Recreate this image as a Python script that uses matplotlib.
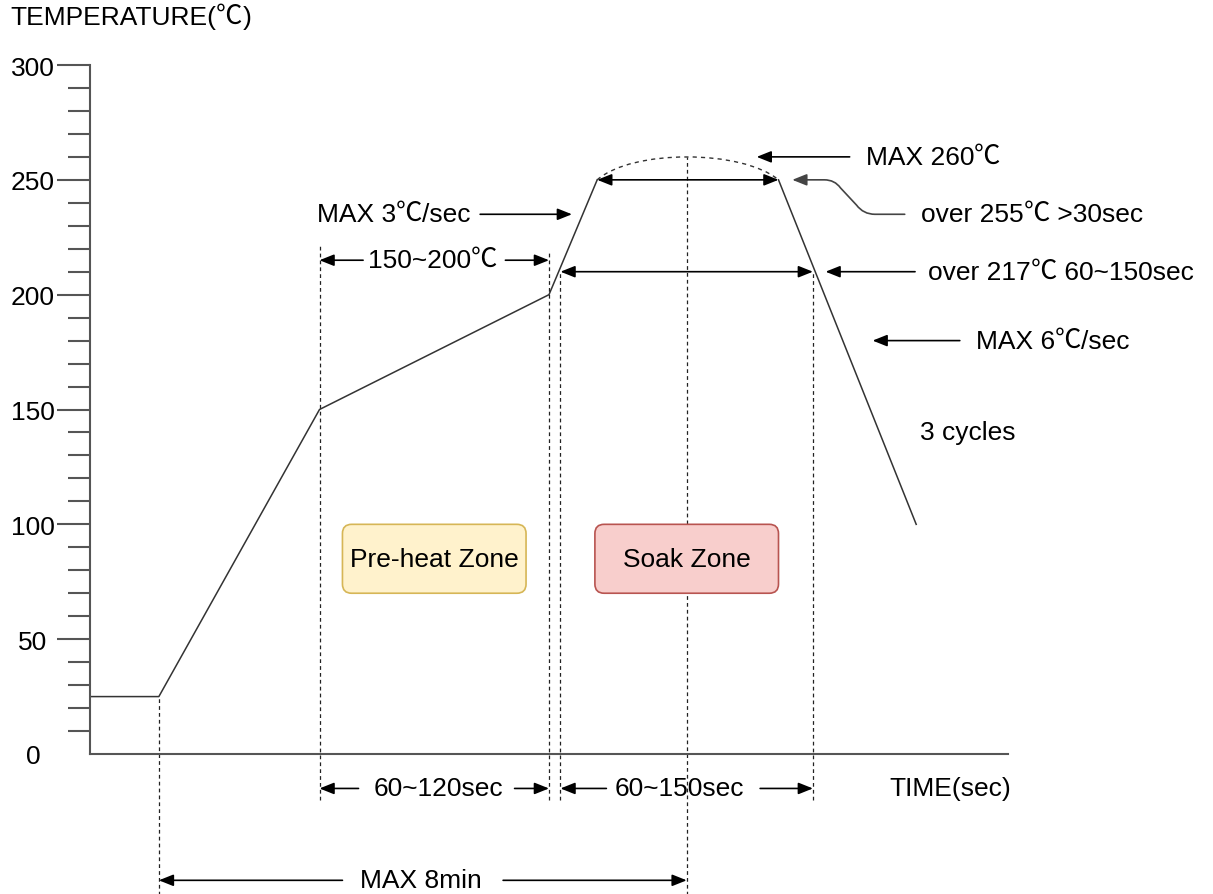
import matplotlib.pyplot as plt
from matplotlib.patches import FancyBboxPatch, FancyArrowPatch, PathPatch
from matplotlib.path import Path
from matplotlib.ticker import MultipleLocator

plt.rcParams['font.family'] = ['Liberation Sans', 'Noto Sans CJK SC', 'DejaVu Sans']
CJK = ['Noto Sans CJK SC', 'DejaVu Sans']

# reflow profile (time in arbitrary units, temperature in degC)
ramp_t = [0, 30, 100, 200, 221]
ramp_temp = [25, 25, 150, 200, 250]
peak_t = [221, 236, 284, 300]
peak_temp = [250, 263.3, 263.3, 250]
cool_t = [300, 360]
cool_temp = [250, 100]

y_ticks = [0, 50, 100, 150, 200, 250, 300]

# dashed guide lines: (time, top, bottom)
guides = [(30, 25, -62), (100, 221, -20), (200, 218, -20), (205, 210, -20),
          (260, 260, -62), (315, 210, -20)]

# double arrows broken by a label: (y, left end, right end, gap left, gap right)
spans = [(215, 100, 200, 119, 181), (-15, 100, 200, 117, 185),
         (-15, 205, 315, 225, 292), (-55, 30, 260, 110, 180)]
plain_spans = [(250, 221, 300), (210, 205, 315)]

# pointers: (tail x, tail y, tip x, tip y)
pointers = [(170, 235, 210, 235), (331, 260, 290.5, 260),
            (359.5, 210, 320.5, 210), (379, 180, 341, 180)]

# left-aligned labels, split where the degree sign is
labels = [
    (98.9, 235, ["MAX 3", "℃", "/sec"]),
    (121.1, 215, ["150~200", "℃"]),
    (338, 260, ["MAX 260", "℃"]),
    (362, 235, ["over 255", "℃", " >30sec"]),
    (365, 210, ["over 217", "℃", " 60~150sec"]),
    (386, 180, ["MAX 6", "℃", "/sec"]),
]
centered = [(152, -15, "60~120sec"), (257, -15, "60~150sec"), (144, -55, "MAX 8min"),
            (382.5, 140, "3 cycles"), (375, -15, "TIME(sec)")]

zones = [(110, 190, "Pre-heat Zone", '#fff2cc', '#d6b656'),
         (220, 300, "Soak Zone", '#f8cecc', '#b85450')]
zone_low, zone_high = 70, 100

fs = 19
fig = plt.figure(figsize=(12.13, 8.95), dpi=100)
ax = fig.add_axes([90 / 1213, 140 / 895, 918 / 1213, 689 / 895])
ax.set_xlim(0, 400)
ax.set_ylim(0, 300)
for s in ['top', 'right']:
    ax.spines[s].set_visible(False)
for s in ['left', 'bottom']:
    ax.spines[s].set_color('#555555')
    ax.spines[s].set_linewidth(1.5)
ax.set_xticks([])
ax.set_yticks(y_ticks)
ax.yaxis.set_minor_locator(MultipleLocator(10))
ax.tick_params(axis='y', which='major', length=24, width=1.5, color='#555555',
               pad=17, labelsize=fs)
ax.tick_params(axis='y', which='minor', length=16, width=1.5, color='#555555')
for lab in ax.get_yticklabels():
    lab.set_horizontalalignment('center')
ax.yaxis.get_major_ticks()[0].tick1line.set_visible(False)


def chain(first, parts):
    # put each following piece right after the previous one
    prev = first
    for s in parts:
        fam = CJK if s == "℃" else None
        prev = ax.annotate(s, xy=(1, 0), xycoords=prev, ha='left', va='bottom',
                           fontsize=fs, family=fam, annotation_clip=False)


t0 = fig.text(10 / 1213, 1 - 18 / 895, "TEMPERATURE(", fontsize=fs, ha='left', va='center')
chain(t0, ["℃", ")"])

# profile
ax.plot(ramp_t, ramp_temp, color='#333333', lw=1.1, clip_on=False)
ax.plot(cool_t, cool_temp, color='#333333', lw=1.1, clip_on=False)
peak = Path(list(zip(peak_t, peak_temp)), [Path.MOVETO, Path.CURVE4, Path.CURVE4, Path.CURVE4])
ax.add_patch(PathPatch(peak, fill=False, ec='#333333', lw=1.0, ls=(0, (3, 3)), clip_on=False))

for x, top, bot in guides:
    ax.vlines(x, bot, top, colors='#222222', lw=0.9, linestyles=(0, (3, 2.5)), clip_on=False)

head = '-|>,head_length=0.55,head_width=0.22'
aprops = dict(arrowstyle=head, color='black', lw=1.2, mutation_scale=16, shrinkA=0, shrinkB=0)

for y, x0, x1, g0, g1 in spans:
    ax.annotate('', xy=(x0, y), xytext=(g0, y), arrowprops=aprops, annotation_clip=False)
    ax.annotate('', xy=(x1, y), xytext=(g1, y), arrowprops=aprops, annotation_clip=False)

for y, x0, x1 in plain_spans:
    ax.annotate('', xy=(x1, y), xytext=(x0, y),
                arrowprops=dict(aprops, arrowstyle='<|-|>,head_length=0.55,head_width=0.22'),
                annotation_clip=False)

for x0, y0, x1, y1 in pointers:
    ax.annotate('', xy=(x1, y1), xytext=(x0, y0), arrowprops=aprops, annotation_clip=False)

# curved connector for the 255 label
conn = Path([(355, 235), (342, 235), (337, 235), (334, 239), (327, 246.5), (324.5, 250),
             (320, 250), (306, 250)],
            [Path.MOVETO, Path.LINETO, Path.CURVE3, Path.CURVE3, Path.LINETO, Path.CURVE3,
             Path.CURVE3, Path.LINETO])
ax.add_patch(FancyArrowPatch(path=conn, arrowstyle=head, color='#444444', lw=1.2,
                             mutation_scale=16, clip_on=False))

for x, y, parts in labels:
    t = ax.text(x, y, parts[0], fontsize=fs, ha='left', va='center', clip_on=False)
    chain(t, parts[1:])

for x, y, txt in centered:
    ax.text(x, y, txt, fontsize=fs, ha='center', va='center', clip_on=False)

for x0, x1, txt, fc, ec in zones:
    ax.add_patch(FancyBboxPatch((x0, zone_low), x1 - x0, zone_high - zone_low,
                                boxstyle='round,pad=0,rounding_size=4',
                                fc=fc, ec=ec, lw=1.2, zorder=3))
    ax.text((x0 + x1) / 2, (zone_low + zone_high) / 2, txt, fontsize=fs,
            ha='center', va='center', zorder=4)

fig.savefig('out.png', dpi=100)
